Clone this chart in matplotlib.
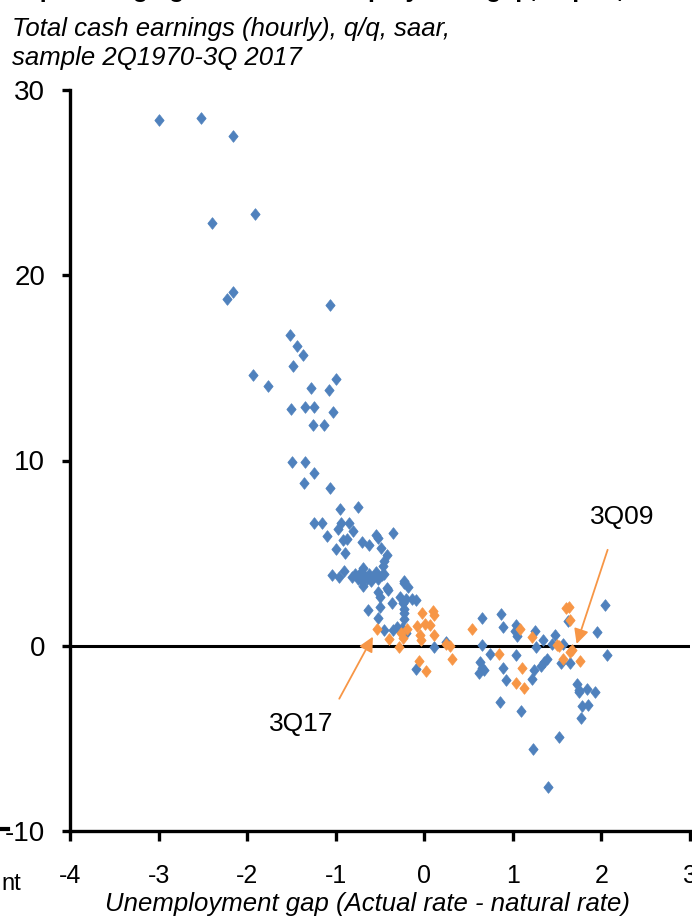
import matplotlib
matplotlib.use("Agg")
import matplotlib.pyplot as plt
from matplotlib import font_manager
from matplotlib.path import Path
from matplotlib.lines import Line2D

# ---- data: unemployment gap (x) vs hourly cash earnings growth, q/q saar (y)
gap_history = [
    -2.99, -2.52, -2.16, -1.91, -2.40, -2.16, -2.23, -1.06,
    -1.52, -1.44, -1.37, -1.48, -1.93, -1.76, -1.00, -1.28, -1.08, -1.50,
    -1.35, -1.24, -1.03, -1.26, -1.13, -1.49, -1.35, -1.24, -1.36, -1.06,
    -1.25, -0.95, -0.75, -1.15, -0.94, -0.85, -0.97, -0.80, -1.10, -0.54,
    -0.35, -0.92, -0.87, -0.70, -0.62, -0.52, -0.49, -1.00, -0.90, -0.42,
    -0.45, -0.47, -0.91, -0.96, -0.69, -0.23, -0.69, -0.42, -0.18, -1.04,
    -0.82, -0.78, -0.75, -0.72, -0.68, -0.65, -0.62, -0.58, -0.55, -0.52,
    -0.48, -0.45, -0.60, -0.70,
    -0.52, -0.41, -0.23, -0.50, -0.27, -0.36, -0.21, -0.14, -0.09, -0.24,
    -0.23, -0.64, -0.50, -0.52, -0.23, -0.23, -0.46, -0.35, -0.31, -0.25,
    -0.21, 0.11, 0.25, -0.09,
    0.65, 0.87, 0.89, 1.03, 1.02, 1.05, 1.25, 0.65, 0.74, 1.03, 1.26,
    0.63, 0.65, 0.62, 0.67, 0.89, 0.92, 1.24, 1.22, 0.85, 1.09,
    2.04, 1.62, 1.48, 1.34, 1.44, 1.57, 1.95, 2.06, 1.54, 1.64, 1.38,
    1.35, 1.32, 1.72, 1.75, 1.84, 1.93, 1.78, 1.85, 1.77, 1.75,
    1.23, 1.52, 1.40,
]
wage_history = [
    28.4, 28.5, 27.5, 23.3, 22.8, 19.1, 18.7, 18.4,
    16.8, 16.2, 15.7, 15.1, 14.6, 14.0, 14.4, 13.9, 13.8, 12.8,
    12.9, 12.9, 12.6, 11.9, 11.9, 9.9, 9.9, 9.3, 8.8, 8.5,
    6.6, 7.4, 7.5, 6.6, 6.65, 6.6, 6.3, 6.2, 5.95, 6.0,
    6.1, 5.7, 5.75, 5.6, 5.45, 5.8, 5.3, 5.2, 5.0, 4.9,
    4.6, 4.3, 4.05, 3.7, 4.2, 3.5, 3.2, 3.1, 3.15, 3.8,
    3.7, 3.9, 3.6, 4.0, 3.8, 3.6, 3.9, 3.7, 4.0, 3.6,
    3.8, 3.9, 3.5, 3.5,
    2.9, 3.0, 3.4, 2.65, 2.65, 2.3, 2.55, 2.55, 2.45, 2.3,
    2.0, 1.95, 2.1, 1.5, 1.75, 1.45, 0.83, 0.83, 1.0, 0.95,
    0.68, -0.07, 0.22, -1.26,
    1.49, 1.73, 1.0, 1.13, 0.77, 0.5, 0.77, 0.02, -0.45, -0.49, -0.07,
    -0.9, -1.2, -1.47, -1.29, -1.2, -1.87, -1.29, -1.8, -3.02, -3.54,
    2.21, 1.31, 0.59, 0.29, 0.11, 0.11, 0.72, -0.49, -0.94, -0.94, -0.72,
    -0.9, -1.08, -2.05, -2.37, -2.32, -2.5, -3.27, -3.18, -3.9, -2.47,
    -5.56, -4.95, -7.6,
]

# 3Q09 - 3Q17
gap_recent = [
    -0.53, -0.40, -0.29, -0.26, -0.24, -0.19, -0.08, -0.05, -0.03, 0.01,
    -0.04, 0.07, 0.10, 0.11, 0.11, -0.06, 0.02, 0.31, 0.24, 0.29,
    0.54, 0.84, 1.08, 1.22, 1.10, 1.04, 1.13, 1.63, 1.60, 1.65,
    1.50, 1.67, 1.64, 1.57, 1.76, 1.52,
]
wage_recent = [
    0.9, 0.36, -0.07, 0.68, 0.41, 0.9, 1.08, 0.59, 1.75, 1.2,
    0.32, 1.13, 1.85, 1.67, 0.59, -0.85, -1.39, -0.7, 0.1, -0.03,
    0.9, -0.45, 0.9, 0.45, -1.2, -2.0, -2.28, 2.09, 2.03, 1.37,
    0.05, -0.22, -0.36, -0.72, -0.85, 0.0,
]

x_ticks = [-4, -3, -2, -1, 0, 1, 2, 3]
y_ticks = [-10, 0, 10, 20, 30]

title = "Japan: wage growth vs. unemployment gap, Japan,"
subtitle = "Total cash earnings (hourly), q/q, saar,\nsample 2Q1970-3Q 2017"
x_title = "Unemployment gap (Actual rate - natural rate)"

BLUE = "#4F81BD"
ORANGE = "#F79646"

available = set(font_manager.get_font_names())
FONT = "Liberation Sans Narrow" if "Liberation Sans Narrow" in available else "Liberation Sans"
plt.rcParams["font.family"] = [FONT, "DejaVu Sans"]
plt.rcParams["axes.unicode_minus"] = False

W, H = 692, 918
fig = plt.figure(figsize=(W / 100, H / 100), dpi=100)

# axes box in pixels: x=-4 at 70px, x=3 at 690px, y=30 at 90px, y=-10 at 831px
ax = fig.add_axes([70 / W, (H - 831) / H, 620 / W, 741 / H])
ax.set_xlim(-4, 3)
ax.set_ylim(-10, 30)

for side in ("top", "right"):
    ax.spines[side].set_visible(False)
for side in ("left", "bottom"):
    ax.spines[side].set_linewidth(2.4)
    ax.spines[side].set_color("black")

ax.set_xticks(x_ticks)
ax.set_yticks(y_ticks)
ax.tick_params(axis="x", direction="out", length=7, width=2.4, pad=17, labelsize=18)
ax.tick_params(axis="y", direction="out", length=6, width=2.4, pad=12, labelsize=20)

ax.axhline(0, color="black", lw=2.2, zorder=1)

diamond = Path([(0, 1), (0.8, 0), (0, -1), (-0.8, 0), (0, 1)],
               [Path.MOVETO, Path.LINETO, Path.LINETO, Path.LINETO, Path.CLOSEPOLY])
ax.plot(gap_history, wage_history, linestyle="none", marker=diamond, ms=8.4,
        color=BLUE, mec=BLUE, mew=0.5, zorder=3, clip_on=False)
ax.plot(gap_recent, wage_recent, linestyle="none", marker=diamond, ms=8.4,
        color=ORANGE, mec=ORANGE, mew=0.5, zorder=4, clip_on=False)

arrow = dict(arrowstyle="-|>", color=ORANGE, lw=1.3, mutation_scale=22,
             shrinkA=0, shrinkB=0)
ax.annotate("", xy=(-0.58, 0.49), xytext=(-0.96, -2.86), arrowprops=arrow, zorder=5)
ax.annotate("", xy=(1.72, 0.10), xytext=(2.07, 5.18), arrowprops=arrow, zorder=5)
ax.text(-1.39, -4.2, "3Q17", fontsize=19, ha="center", va="center")
ax.text(2.23, 6.96, "3Q09", fontsize=19, ha="center", va="center")

# header block (the bold headline sits mostly above the top edge)
fig.text(12 / W, 1 + 3 / H, title, fontsize=18, fontweight="bold",
         ha="left", va="baseline")
fig.text(12 / W, 1 - 17 / H, subtitle, fontsize=18.5, style="italic",
         ha="left", va="top", linespacing=1.25)

fig.text(368 / W, 1 - 904 / H, x_title, fontsize=18.5, style="italic",
         ha="center", va="center")
fig.text(1 / W, 1 - 884 / H, "nt", fontsize=17, ha="left", va="center")
fig.add_artist(Line2D([0, 8 / W], [1 - 829 / H, 1 - 829 / H], color="black", lw=3))

fig.savefig("out.png", dpi=100)
